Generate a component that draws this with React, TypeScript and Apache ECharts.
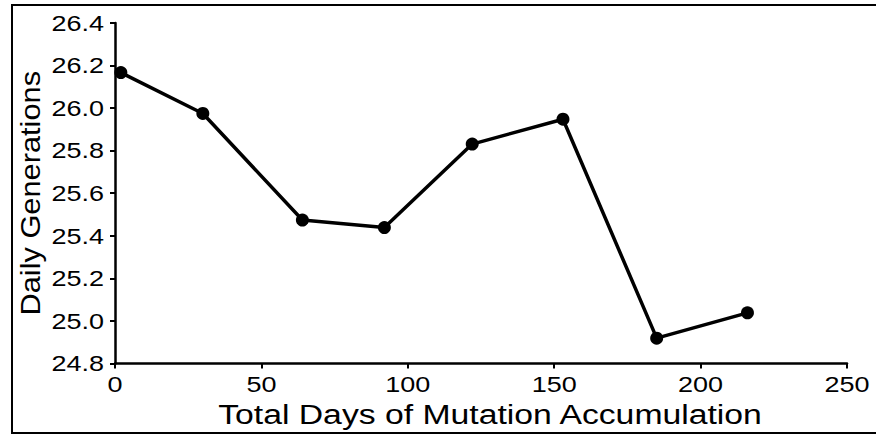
import React, { useEffect, useRef } from 'react';
import * as echarts from 'echarts';

const days = [2, 30, 64, 92, 122, 153, 185, 216];
const generations = [26.167, 25.975, 25.474, 25.439, 25.831, 25.948, 24.919, 25.038];
const xTickValues = [0, 50, 100, 150, 200, 250];
const yTickValues = [24.8, 25.0, 25.2, 25.4, 25.6, 25.8, 26.0, 26.2, 26.4];
const xTitle = 'Total Days of Mutation Accumulation';
const yTitle = 'Daily Generations';

const FONT = '"Liberation Sans", Arial, Helvetica, sans-serif';

function stretchTexts(root: HTMLElement) {
  const texts = root.querySelectorAll('svg text');
  texts.forEach((t) => {
    const el = t as SVGTextElement;
    const cur = el.getAttribute('transform') || '';
    if (cur.indexOf('scale(') >= 0) return;
    const content = (el.textContent || '').trim();
    let s = 1;
    if (content === xTitle) s = 1.25;
    else if (content === yTitle) s = 1.14;
    else if (/^[\d.]+$/.test(content)) s = 1.2;
    if (s === 1) return;
    const x = parseFloat(el.getAttribute('x') || '0');
    const y = parseFloat(el.getAttribute('y') || '0');
    el.setAttribute(
      'transform',
      `${cur} translate(${x} ${y}) scale(${s} 1) translate(${-x} ${-y})`.trim()
    );
  });
}

export default function App() {
  const ref = useRef<HTMLDivElement>(null);
  useEffect(() => {
    document.body.style.margin = '0';
    const div = ref.current!;
    const chart = echarts.init(div, null, { renderer: 'svg' });
    const xMin = xTickValues[0];
    const xMax = xTickValues[xTickValues.length - 1];
    const yMin = yTickValues[0];
    const yMax = yTickValues[yTickValues.length - 1];
    chart.setOption({
      animation: false,
      backgroundColor: '#fff',
      grid: { left: 115, right: 29, top: 23, bottom: 72.5, containLabel: false },
      xAxis: {
        type: 'value',
        min: xMin,
        max: xMax,
        interval: 50,
        name: xTitle,
        nameLocation: 'middle',
        nameGap: 33,
        nameTextStyle: { fontSize: 27, color: '#000', fontFamily: FONT, padding: [0, 0, 0, 18] },
        axisLine: { show: true, lineStyle: { color: '#000', width: 2.5 } },
        axisTick: { show: true, inside: false, length: 5, lineStyle: { color: '#000', width: 2 } },
        axisLabel: { fontSize: 22.5, color: '#000', fontFamily: FONT, margin: 9 },
        splitLine: { show: false },
      },
      yAxis: {
        type: 'value',
        min: yMin,
        max: yMax,
        interval: 0.2,
        name: yTitle,
        nameLocation: 'middle',
        nameGap: 71,
        nameTextStyle: { fontSize: 27, color: '#000', fontFamily: FONT, padding: [0, 0, 0, 0] },
        axisLine: { show: true, lineStyle: { color: '#000', width: 2.5 } },
        axisTick: { show: true, inside: false, length: 5, lineStyle: { color: '#000', width: 2 } },
        axisLabel: {
          fontSize: 22.5,
          color: '#000',
          fontFamily: FONT,
          margin: 11,
          formatter: (v: number) => v.toFixed(1),
        },
        splitLine: { show: false },
      },
      graphic: [
        {
          type: 'rect',
          silent: true,
          shape: { x: 12, y: 5, width: 900, height: 428 },
          style: { fill: 'none', stroke: '#000', lineWidth: 2 },
        },
      ],
      series: [
        {
          type: 'line',
          data: days.map((d, i) => [d, generations[i]]),
          symbol: 'circle',
          symbolSize: 13,
          lineStyle: { color: '#000', width: 3.5 },
          itemStyle: { color: '#000' },
          clip: false,
        },
      ],
    });
    stretchTexts(div);
    const onFinished = () => stretchTexts(div);
    chart.on('finished', onFinished);
    const timer = window.setTimeout(() => stretchTexts(div), 50);
    return () => {
      window.clearTimeout(timer);
      chart.off('finished', onFinished);
      chart.dispose();
    };
  }, []);
  return <div ref={ref} style={{ width: 876, height: 436, position: 'absolute', left: 0, top: 0 }} />;
}
